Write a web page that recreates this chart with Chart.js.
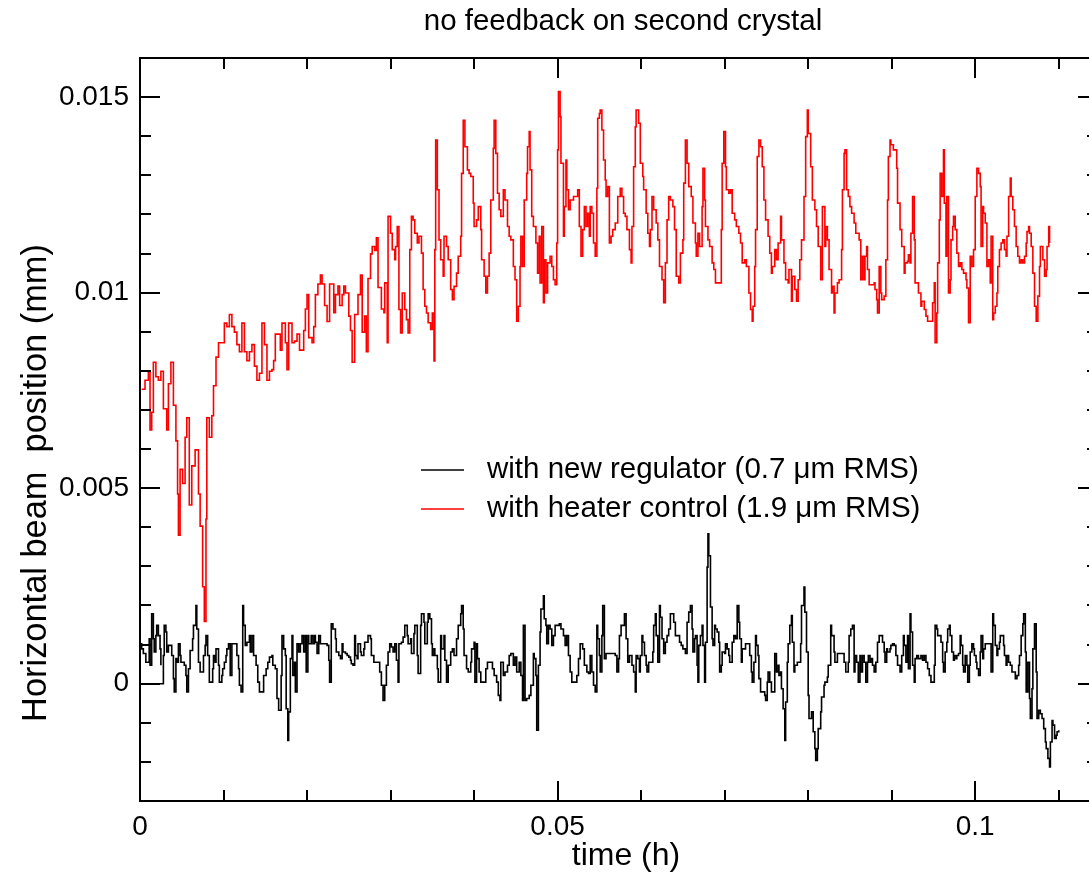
<!DOCTYPE html>
<html>
<head>
<meta charset="utf-8">
<title>no feedback on second crystal</title>
<script src="https://cdn.jsdelivr.net/npm/chart.js@4.4.1/dist/chart.umd.min.js"></script>
<style>
  html, body { margin: 0; padding: 0; background: #fff; overflow: hidden; }
  #wrap { width: 1089px; height: 874px; overflow: hidden; }
  canvas { display: block; }
</style>
</head>
<body>
<div id="wrap"><canvas id="beam" width="1110" height="874"></canvas></div>
<script>
// ---------- texts ----------
const chartTitle = 'no feedback on second crystal';
const xTitle = 'time (h)';
const yTitle = 'Horizontal beam  position (mm)';
const seriesLabels = ['with new regulator (0.7 \u03bcm RMS)', 'with heater control (1.9 \u03bcm RMS)'];

// ---------- axes ----------
const xRange = [0, 0.1147];
const yRange = [-0.003, 0.016];
const xMajorTicks = [0, 0.05, 0.1];
const xTickLabels = ['0', '0.05', '0.1'];
const xMinorTicks = [0.01, 0.02, 0.03, 0.04, 0.06, 0.07, 0.08, 0.09, 0.11];
const yMajorTicks = [0, 0.005, 0.01, 0.015];
const yTickLabels = ['0', '0.005', '0.01', '0.015'];
const yMinorTicks = [-0.002, -0.001, 0.001, 0.002, 0.003, 0.004, 0.006, 0.007, 0.008, 0.009,
                     0.011, 0.012, 0.013, 0.014];

// ---------- heater control (red), time in h, position in mm ----------
const redTime = [
  0.0002,0.0006,0.0010,0.0012,0.0014,0.0016,0.0019,0.0022,0.0025,0.0028,
  0.0032,0.0034,0.0037,0.0040,0.0043,0.0045,0.0046,0.0048,0.0051,0.0054,
  0.0056,0.0059,0.0062,0.0066,0.0070,0.0072,0.0075,0.0077,0.0079,0.0080,
  0.0083,0.0086,0.0088,0.0091,0.0094,0.0099,0.0101,0.0104,0.0107,0.0110,
  0.0113,0.0116,0.0119,0.0122,0.0125,0.0128,0.0131,0.0134,0.0137,0.0140,
  0.0143,0.0146,0.0149,0.0152,0.0155,0.0158,0.0160,0.0162,0.0166,0.0168,
  0.0170,0.0174,0.0176,0.0178,0.0182,0.0185,0.0188,0.0191,0.0194,0.0196,
  0.0198,0.0200,0.0202,0.0206,0.0208,0.0210,0.0213,0.0216,0.0218,0.0221,
  0.0224,0.0227,0.0230,0.0232,0.0234,0.0237,0.0239,0.0242,0.0244,0.0246,
  0.0250,0.0252,0.0254,0.0257,0.0259,0.0261,0.0264,0.0266,0.0269,0.0271,
  0.0273,0.0276,0.0278,0.0281,0.0283,0.0285,0.0289,0.0292,
  0.0293,0.0296,0.0297,0.0300,0.0302,0.0305,0.0306,0.0308,0.0310,0.0312,
  0.0314,0.0317,0.0319,0.0321,0.0323,0.0325,0.0327,0.0329,0.0332,0.0334,
  0.0337,0.0339,0.0341,0.0343,0.0345,0.0348,0.0350,0.0352,0.0353,0.0354,
  0.0356,0.0358,0.0360,0.0363,0.0364,0.0367,0.0369,0.0372,0.0374,0.0376,
  0.0379,0.0381,0.0384,0.0385,0.0387,0.0389,0.0392,0.0394,0.0396,0.0399,
  0.0400,0.0403,0.0405,0.0408,0.0409,0.0412,0.0414,0.0416,0.0418,0.0420,
  0.0423,0.0424,0.0426,0.0428,0.0430,0.0432,0.0435,0.0437,0.0440,0.0442,
  0.0444,0.0447,0.0449,0.0451,0.0453,0.0455,0.0456,0.0458,0.0460,0.0463,
  0.0464,0.0466,0.0467,0.0469,0.0471,0.0474,0.0476,0.0478,0.0479,0.0481,
  0.0483,0.0484,0.0486,0.0488,0.0491,0.0493,0.0495,0.0497,0.0499,0.0500,
  0.0501,0.0503,0.0504,0.0507,0.0508,0.0510,0.0511,0.0513,0.0515,0.0517,
  0.0519,0.0522,0.0524,0.0526,0.0528,0.0530,0.0532,0.0534,0.0536,0.0538,
  0.0539,0.0541,0.0543,0.0545,0.0547,0.0548,0.0550,0.0551,0.0553,0.0555,
  0.0557,0.0558,0.0560,0.0562,0.0564,0.0566,0.0569,
  0.0572,0.0575,0.0577,0.0579,0.0581,0.0583,0.0586,0.0588,0.0589,0.0591,
  0.0593,0.0594,0.0597,0.0599,0.0602,0.0603,0.0606,0.0608,0.0610,0.0611,
  0.0613,0.0615,0.0618,0.0620,0.0622,0.0625,0.0627,0.0629,0.0631,0.0633,
  0.0635,0.0638,0.0640,0.0642,0.0645,0.0647,0.0650,0.0651,0.0653,0.0655,
  0.0657,0.0660,0.0662,0.0665,0.0666,0.0668,0.0670,0.0673,0.0674,0.0676,
  0.0677,0.0680,0.0682,0.0685,0.0687,0.0689,0.0694,0.0696,0.0697,0.0699,
  0.0701,0.0702,0.0705,0.0707,0.0709,0.0712,0.0714,0.0717,0.0719,0.0721,
  0.0724,0.0726,0.0729,0.0731,0.0733,0.0734,0.0736,0.0737,0.0739,0.0741,
  0.0743,0.0745,0.0747,0.0749,0.0752,0.0754,0.0756,0.0757,0.0760,0.0762,
  0.0764,0.0767,0.0768,0.0771,0.0773,0.0776,0.0777,0.0780,0.0781,0.0784,
  0.0786,0.0788,0.0790,0.0792,0.0795,0.0797,0.0799,0.0800,0.0803,0.0805,
  0.0808,0.0810,0.0812,0.0815,0.0817,0.0820,0.0821,0.0823,0.0825,0.0828,
  0.0829,0.0831,0.0832,0.0835,0.0837,0.0840,0.0841,0.0843,0.0844,0.0846,
  0.0848,0.0850,0.0852,0.0855,0.0857,
  0.0861,0.0863,0.0865,0.0867,0.0868,0.0870,0.0871,0.0873,0.0876,0.0879,
  0.0880,0.0882,0.0883,0.0885,0.0887,0.0888,0.0891,0.0893,0.0895,0.0896,
  0.0898,0.0899,0.0902,0.0904,0.0906,0.0907,0.0910,0.0912,0.0915,0.0916,
  0.0919,0.0920,0.0922,0.0923,0.0925,0.0927,0.0928,0.0931,0.0932,0.0935,
  0.0936,0.0939,0.0941,0.0943,0.0947,0.0949,0.0951,0.0952,0.0954,0.0955,
  0.0957,0.0958,0.0960,0.0962,0.0963,0.0965,0.0966,0.0968,0.0970,0.0971,
  0.0973,0.0974,0.0976,0.0978,0.0980,0.0982,0.0984,0.0986,0.0989,0.0990,
  0.0992,0.0994,0.0996,0.0998,0.1000,0.1002,0.1004,0.1006,0.1007,0.1009,
  0.1010,0.1012,0.1014,0.1016,0.1018,0.1019,0.1021,0.1022,0.1024,0.1026,
  0.1027,0.1029,0.1031,0.1033,0.1035,0.1037,0.1038,0.1040,0.1042,0.1043,
  0.1045,0.1047,0.1049,0.1051,0.1053,0.1055,0.1057,0.1059,0.1061,0.1062,
  0.1064,0.1065,0.1067,0.1069,0.1071,0.1073,0.1075,0.1077,0.1078,0.1080,
  0.1081,0.1083,0.1085,0.1086,0.1088,0.1089
];
const redPos = [
  0.00753,0.00776,0.00799,0.00649,0.00694,0.00822,0.00785,0.00776,0.00799,0.00703,
  0.00649,0.00767,0.00822,0.00712,0.00621,0.00485,0.00380,0.00548,0.00512,0.00630,
  0.00680,0.00457,0.00557,0.00598,0.00485,0.00403,0.00248,0.00159,0.00421,0.00680,
  0.00630,0.00685,0.00762,0.00835,0.00872,0.00872,0.00922,0.00913,0.00944,0.00913,
  0.00899,0.00867,0.00849,0.00922,0.00849,0.00826,0.00849,0.00867,0.00812,0.00776,
  0.00794,0.00922,0.00867,0.00776,0.00799,0.00803,0.00826,0.00894,0.00894,0.00853,
  0.00922,0.00872,0.00803,0.00922,0.00872,0.00876,0.00894,0.00853,0.00853,0.00903,
  0.00958,0.00995,0.00885,0.00872,0.00913,0.00995,0.01022,0.01045,0.01022,0.00967,
  0.00926,0.01022,0.01022,0.00949,0.00995,0.01017,0.00967,0.00995,0.01017,0.00999,
  0.00940,0.00903,0.00822,0.00944,0.00944,0.00995,0.01045,0.00899,0.00940,0.00849,
  0.01036,0.01099,0.01118,0.01108,0.01140,0.01013,0.00958,0.00949,
  0.01025,0.00872,0.01195,0.01152,0.01110,0.01084,0.01118,0.01169,0.00957,0.00897,
  0.00999,0.00957,0.00931,0.00897,0.01110,0.01195,0.01186,0.01152,0.01127,0.01144,
  0.01101,0.01008,0.00965,0.00948,0.00923,0.00906,0.00948,0.00825,0.01110,0.01390,
  0.01263,0.01135,0.01084,0.01042,0.01144,0.01118,0.01084,0.01008,0.00982,0.01016,
  0.01050,0.01093,0.01144,0.01305,0.01441,0.01373,0.01314,0.01305,0.01297,0.01229,
  0.01169,0.01186,0.01220,0.01161,0.01084,0.01042,0.00999,0.01042,0.01101,0.01237,
  0.01369,0.01441,0.01356,0.01254,0.01212,0.01195,0.01263,0.01237,0.01169,0.01144,
  0.01135,0.01067,0.01033,0.00927,0.00965,0.01067,0.01144,0.01067,0.01237,0.01305,
  0.01373,0.01412,0.01314,0.01195,0.01169,0.01127,0.01050,0.01144,0.01025,0.01169,
  0.00974,0.01084,0.00999,0.01076,0.01093,0.01067,0.01033,0.01020,0.01127,0.01365,
  0.01514,0.01450,0.01331,0.01144,0.01220,0.01339,0.01263,0.01212,0.01237,0.01237,
  0.01246,0.01246,0.01263,0.01169,0.01093,0.01161,0.01220,0.01169,0.01203,0.01144,
  0.01220,0.01203,0.01127,0.01093,0.01267,0.01446,0.01458,0.01467,0.01416,0.01339,
  0.01288,0.01246,0.01271,0.01127,0.01144,0.01161,0.01178,
  0.01246,0.01267,0.01246,0.01203,0.01195,0.01161,0.01110,0.01076,0.01169,0.01322,
  0.01424,0.01467,0.01433,0.01331,0.01297,0.01263,0.01203,0.01152,0.01118,0.01161,
  0.01246,0.01212,0.01178,0.01135,0.01067,0.01033,0.00974,0.01076,0.01186,0.01246,
  0.01237,0.01220,0.01161,0.01042,0.01025,0.01101,0.01135,0.01280,0.01390,0.01331,
  0.01271,0.01246,0.01178,0.01127,0.01093,0.01152,0.01118,0.01220,0.01318,0.01237,
  0.01169,0.01135,0.01118,0.01076,0.01059,0.01025,0.01025,0.01161,0.01331,0.01412,
  0.01322,0.01263,0.01254,0.01263,0.01203,0.01186,0.01169,0.01152,0.01127,0.01076,
  0.01084,0.01067,0.00999,0.00957,0.00927,0.00965,0.01067,0.01161,0.01348,0.01390,
  0.01373,0.01322,0.01237,0.01186,0.01144,0.01101,0.01050,0.01067,0.01110,0.01084,
  0.01127,0.01195,0.01135,0.01076,0.01033,0.01025,0.01059,0.00978,0.01042,0.01008,
  0.00978,0.01033,0.01084,0.01135,0.01246,0.01399,0.01467,0.01407,0.01322,0.01237,
  0.01212,0.01169,0.01118,0.01033,0.01220,0.01118,0.01169,0.01135,0.01059,0.00999,
  0.01016,0.00948,0.00999,0.01025,0.01033,0.01110,0.01263,0.01356,0.01365,0.01263,
  0.01246,0.01220,0.01203,0.01178,0.01152,
  0.01135,0.01033,0.01093,0.01033,0.01093,0.01118,0.01059,0.01020,0.01020,0.01025,
  0.01008,0.00982,0.00948,0.01067,0.00999,0.00982,0.00991,0.01084,0.01237,0.01348,
  0.01390,0.01378,0.01365,0.01365,0.01318,0.01229,0.01161,0.01118,0.01050,0.01076,
  0.01080,0.01097,0.01076,0.01152,0.01246,0.01135,0.01025,0.01025,0.00999,0.00965,
  0.00978,0.00957,0.00940,0.00927,0.00927,0.00974,0.01025,0.00872,0.00948,0.01076,
  0.01186,0.01305,0.01246,0.01365,0.01229,0.01093,0.01246,0.00999,0.01033,0.01135,
  0.01169,0.01195,0.01161,0.01101,0.01067,0.01076,0.01059,0.01050,0.01033,0.01012,
  0.00923,0.01093,0.01067,0.01110,0.01246,0.01318,0.01305,0.01271,0.01118,0.01220,
  0.01203,0.01178,0.01067,0.01084,0.01025,0.01144,0.00931,0.00948,0.00965,0.00999,
  0.01067,0.01110,0.01127,0.01135,0.01110,0.01093,0.01144,0.01246,0.01293,0.01246,
  0.01212,0.01169,0.01118,0.01093,0.01076,0.01084,0.01076,0.01093,0.01127,0.01156,
  0.01169,0.01152,0.01118,0.01050,0.00965,0.00927,0.00991,0.01067,0.01118,0.01118,
  0.01084,0.01042,0.01059,0.01118,0.01169,0.01127
];

// ---------- new regulator (black) ----------
// the record starts with a short piece at zero drawn back from t = 0 (null = pen up)
const blackTime = [
  0.0000,0.0002,0.0004,0.0007,0.0009,0.0011,0.0012,0.0014,0.0016,0.0017,
  0.0019,0.0020,0.0022,0.0024,0.0025,0.0025,0.0000,0.0026,
  0.0028,0.0029,0.0031,0.0032,0.0034,
  0.0036,0.0038,0.0040,0.0041,0.0043,0.0044,0.0046,0.0048,0.0049,0.0051,
  0.0053,0.0055,0.0056,0.0058,0.0060,0.0063,0.0064,0.0067,0.0068,0.0070,
  0.0072,0.0075,0.0076,0.0078,0.0079,0.0081,0.0083,0.0085,0.0087,0.0088,
  0.0090,0.0091,0.0094,0.0095,0.0098,0.0099,0.0101,0.0103,0.0104,0.0106,
  0.0108,0.0110,0.0115,0.0116,0.0118,0.0119,0.0121,0.0123,0.0124,0.0126,
  0.0128,0.0131,0.0132,0.0134,0.0136,0.0139,0.0141,0.0143,0.0146,0.0148,
  0.0151,0.0153,0.0155,0.0158,0.0159,0.0162,0.0164,0.0166,0.0169,0.0170,
  0.0172,0.0174,0.0175,0.0177,0.0178,0.0180,0.0182,0.0183,0.0185,0.0186,
  0.0188,0.0190,0.0192,0.0194,0.0196,0.0198,0.0199,0.0201,0.0202,0.0205,
  0.0207,0.0209,0.0210,0.0212,0.0214,0.0216,0.0224,0.0226,0.0227,0.0229,
  0.0231,0.0234,0.0235,0.0238,0.0240,0.0242,0.0243,0.0246,0.0248,0.0250,
  0.0252,0.0253,0.0255,0.0257,0.0258,0.0260,0.0261,0.0264,0.0265,0.0268,
  0.0269,0.0273,0.0276,0.0277,0.0280,0.0282,
  0.0285,0.0287,0.0289,0.0291,0.0293,0.0295,0.0297,0.0299,0.0301,0.0303,
  0.0305,0.0307,0.0309,0.0310,0.0313,0.0315,0.0317,0.0320,0.0321,0.0324,
  0.0325,0.0328,0.0329,0.0332,0.0333,0.0336,0.0337,0.0340,0.0341,0.0344,
  0.0345,0.0347,0.0349,0.0350,0.0352,0.0353,0.0356,0.0357,0.0360,0.0361,
  0.0364,0.0365,0.0367,0.0369,0.0372,0.0374,0.0376,0.0379,0.0381,0.0384,
  0.0385,0.0387,0.0388,0.0391,0.0393,0.0396,0.0397,0.0400,0.0401,0.0403,
  0.0404,0.0406,0.0408,0.0412,0.0414,0.0416,0.0420,0.0422,0.0424,0.0427,
  0.0429,0.0431,0.0432,0.0435,0.0437,0.0440,0.0442,0.0444,0.0447,0.0449,
  0.0451,0.0454,0.0456,0.0458,0.0459,0.0461,0.0463,0.0466,0.0468,0.0471,
  0.0472,0.0474,0.0475,0.0477,0.0479,0.0480,0.0483,0.0484,0.0486,0.0487,
  0.0489,0.0491,0.0493,0.0495,0.0497,0.0502,0.0504,0.0507,0.0509,0.0511,
  0.0513,0.0515,0.0517,0.0520,0.0523,0.0525,0.0527,0.0530,0.0532,0.0535,
  0.0537,0.0539,0.0541,0.0543,0.0545,0.0547,0.0548,0.0550,0.0551,0.0553,
  0.0554,0.0556,0.0558,0.0567,0.0569,
  0.0571,0.0573,0.0574,0.0576,0.0578,0.0580,0.0582,0.0584,0.0586,0.0589,
  0.0591,0.0593,0.0594,0.0596,0.0598,0.0599,0.0601,0.0602,0.0604,0.0606,
  0.0607,0.0609,0.0611,0.0614,0.0615,0.0617,0.0618,0.0620,0.0622,0.0623,
  0.0625,0.0627,0.0629,0.0631,0.0633,0.0635,0.0638,0.0639,0.0641,0.0643,
  0.0646,0.0648,0.0650,0.0653,0.0655,0.0657,0.0659,0.0661,0.0662,0.0664,
  0.0665,0.0667,0.0668,0.0669,0.0671,0.0673,0.0674,0.0676,0.0677,0.0679,
  0.0680,0.0681,0.0683,0.0685,0.0686,0.0688,0.0689,0.0691,0.0693,0.0694,
  0.0696,0.0697,0.0700,0.0701,0.0703,0.0705,0.0706,0.0709,0.0711,0.0713,
  0.0715,0.0717,0.0718,0.0720,0.0721,0.0725,0.0728,0.0730,0.0732,0.0733,
  0.0735,0.0737,0.0738,0.0740,0.0741,0.0743,0.0748,0.0749,0.0751,0.0752,
  0.0754,0.0756,0.0759,0.0760,0.0762,0.0764,0.0765,0.0767,0.0768,0.0770,
  0.0772,0.0773,0.0775,0.0776,0.0778,0.0780,0.0781,0.0783,0.0784,0.0787,
  0.0789,0.0791,0.0792,0.0795,0.0796,0.0798,0.0800,0.0801,0.0804,0.0806,
  0.0808,0.0809,0.0811,0.0812,0.0815,0.0816,0.0819,0.0820,0.0823,0.0824,
  0.0827,0.0828,0.0831,0.0832,0.0835,0.0840,0.0843,0.0845,0.0848,0.0849,
  0.0851,0.0853,0.0855,0.0856,
  0.0858,0.0860,0.0862,0.0863,0.0865,0.0867,0.0869,0.0871,0.0872,0.0874,
  0.0875,0.0877,0.0879,0.0881,0.0883,0.0885,0.0887,0.0889,0.0891,0.0892,
  0.0894,0.0895,0.0898,0.0899,0.0901,0.0903,0.0905,0.0907,0.0910,0.0912,
  0.0914,0.0915,0.0917,0.0919,0.0920,0.0922,0.0923,0.0925,0.0927,0.0928,
  0.0930,0.0932,0.0935,0.0937,0.0939,0.0941,0.0943,0.0945,0.0947,0.0949,
  0.0951,0.0952,0.0954,0.0955,0.0958,0.0959,0.0961,0.0962,0.0964,0.0966,
  0.0967,0.0969,0.0970,0.0972,0.0974,0.0975,0.0977,0.0978,0.0980,0.0982,
  0.0983,0.0985,0.0986,0.0988,0.0990,0.0991,0.0993,0.0994,0.0996,0.0998,
  0.0999,0.1001,0.1002,0.1004,0.1006,0.1007,0.1009,0.1010,0.1012,0.1017,
  0.1019,0.1021,0.1022,0.1024,0.1026,0.1027,0.1029,0.1030,0.1032,0.1034,
  0.1035,0.1037,0.1038,0.1040,0.1042,0.1044,0.1046,0.1048,0.1050,0.1052,
  0.1053,0.1055,0.1057,0.1058,0.1060,0.1061,0.1063,0.1065,0.1066,0.1068,
  0.1069,0.1071,0.1073,0.1074,0.1076,0.1078,0.1080,0.1082,0.1084,0.1085,
  0.1087,0.1089,0.1090,0.1092,0.1093,0.1095,0.1097,0.1098,0.1100
];
const blackPos = [
  0.00102,0.00089,0.00077,0.00055,0.00055,0.00115,0.00047,0.00179,0.00115,0.00081,
  0.00123,0.00149,0.00123,0.00089,0.00047,null,0,0,
  0.00072,0.00149,0.00132,0.00081,0.00098,
  0.00098,0.00072,0.00013,-0.00021,0.00064,0.00055,0.00102,0.00072,0.00055,0.00055,
  0.00047,0.00021,-0.00021,0.00038,0.00085,0.00115,0.00149,0.00200,0.00140,0.00055,
  0.00030,0.00030,0.00072,0.00098,0.00123,0.00072,0.00004,0.00004,0.00038,0.00072,
  0.00055,0.00089,0.00047,0.00004,0.00021,0.00038,0.00055,0.00072,0.00089,0.00102,
  0.00021,0.00102,0.00102,0.00072,0.00038,-0.00004,-0.00021,0.00200,0.00149,0.00098,
  0.00106,0.00123,0.00081,0.00123,0.00072,0.00047,0.00004,-0.00021,-0.00021,0.00021,
  0.00038,0.00055,0.00068,0.00072,0.00047,0.00038,-0.00038,-0.00068,0.00021,0.00123,
  0.00089,0.00072,-0.00064,-0.00145,-0.00072,0.00064,0.00123,0.00021,0.00055,-0.00021,
  0.00102,0.00081,0.00102,0.00123,0.00081,0.00123,0.00030,0.00123,0.00102,0.00123,
  0.00102,0.00123,0.00106,0.00077,0.00123,0.00102,0.00098,0.00060,0.00004,0.00153,
  0.00140,0.00115,0.00081,0.00072,0.00064,0.00102,0.00081,0.00077,0.00072,0.00068,
  0.00060,0.00051,0.00047,0.00123,0.00072,0.00064,0.00102,0.00081,0.00072,0.00089,
  0.00106,0.00123,0.00115,0.00072,0.00055,0.00055,
  0.00055,0.00030,-0.00004,-0.00043,-0.00004,0.00047,0.00081,0.00102,0.00094,0.00081,
  0.00102,0.00060,0.00004,0.00102,0.00106,0.00119,0.00149,0.00123,0.00102,0.00115,
  0.00077,0.00128,0.00149,0.00072,0.00026,0.00149,0.00179,0.00157,0.00102,0.00157,
  0.00179,0.00166,0.00102,0.00072,0.00089,0.00072,0.00038,0.00004,0.00123,0.00089,
  0.00123,0.00060,0.00004,0.00047,0.00081,0.00089,0.00072,0.00115,0.00149,0.00179,
  0.00200,0.00140,0.00072,0.00038,0.00030,0.00055,0.00089,0.00106,0.00004,0.00102,
  0.00064,0.00030,0.00004,0.00004,0.00038,0.00055,0.00055,0.00038,0.00021,0.00004,
  -0.00030,-0.00043,0.00055,0.00021,0.00030,0.00047,0.00072,0.00077,0.00047,0.00068,
  0.00030,0.00055,0.00021,-0.00043,0.00149,-0.00043,-0.00038,-0.00030,-0.00004,0.00077,
  0.00064,0.00021,-0.00119,0.00047,0.00132,0.00191,0.00225,0.00166,0.00149,0.00102,
  0.00149,0.00140,0.00098,0.00123,0.00149,0.00153,0.00140,0.00123,0.00098,0.00123,
  0.00072,0.00030,0.00004,0.00004,0.00021,0.00064,0.00102,0.00089,0.00047,0.00030,
  0.00026,0.00072,0.00030,-0.00004,-0.00021,0.00149,0.00115,0.00072,0.00030,0.00123,
  0.00200,0.00064,0.00077,0.00077,0.00072,
  0.00030,0.00064,0.00123,0.00149,0.00149,0.00179,0.00115,0.00055,0.00072,0.00047,
  0.00030,-0.00021,0.00072,0.00064,0.00030,0.00072,0.00123,0.00106,0.00072,0.00047,
  0.00030,0.00055,0.00055,0.00081,0.00149,0.00179,0.00123,0.00055,0.00200,0.00170,
  0.00115,0.00077,0.00106,0.00123,0.00140,0.00179,0.00179,0.00157,0.00123,0.00123,
  0.00106,0.00098,0.00089,0.00077,0.00157,0.00183,0.00200,0.00140,0.00081,0.00115,
  0.00123,0.00047,0.00004,0.00098,0.00123,0.00149,0.00098,0.00004,0.00106,0.00298,
  0.00383,0.00327,0.00196,0.00115,0.00098,0.00149,0.00140,0.00132,0.00106,0.00030,
  0.00047,0.00081,0.00077,0.00102,0.00089,0.00072,0.00055,0.00106,0.00123,0.00115,
  0.00200,0.00157,0.00115,0.00055,0.00089,0.00102,0.00102,0.00072,0.00030,0.00004,
  0.00055,0.00123,0.00098,0.00072,0.00013,-0.00021,-0.00030,-0.00043,0.00004,0.00030,
  0.00004,-0.00021,-0.00021,0.00077,0.00030,0.00047,0.00021,0.00030,-0.00013,-0.00064,
  -0.00145,-0.00047,0.00055,0.00102,0.00149,0.00174,0.00106,0.00030,0.00047,0.00055,
  0.00055,0.00102,0.00200,0.00247,0.00183,0.00081,-0.00030,-0.00089,-0.00072,-0.00123,
  -0.00166,-0.00196,-0.00166,-0.00115,-0.00072,-0.00034,-0.00004,0.00004,0.00017,0.00047,
  0.00149,0.00123,0.00081,0.00055,0.00077,0.00077,0.00055,0.00030,0.00055,0.00123,
  0.00140,0.00149,0.00030,0.00072,
  0.00055,0.00004,0.00072,0.00030,0.00072,0.00055,0.00004,0.00055,0.00072,0.00055,
  0.00064,0.00047,0.00030,0.00055,0.00106,0.00123,0.00123,0.00106,0.00081,0.00055,
  0.00089,0.00081,0.00089,0.00098,0.00102,0.00098,0.00072,0.00047,0.00030,0.00072,
  0.00123,0.00098,0.00055,0.00123,0.00038,0.00179,0.00132,0.00047,0.00004,0.00064,
  0.00072,0.00064,0.00072,0.00060,0.00072,0.00055,0.00038,0.00021,0.00004,0.00004,
  0.00047,0.00149,0.00140,0.00123,0.00123,0.00106,0.00055,0.00030,0.00081,0.00106,
  0.00140,0.00149,0.00123,0.00081,0.00060,0.00072,0.00064,0.00072,0.00077,0.00123,
  0.00098,0.00047,0.00030,0.00072,0.00047,0.00004,0.00047,0.00081,0.00102,0.00089,
  0.00072,0.00055,0.00038,0.00021,0.00081,0.00123,0.00064,0.00089,0.00102,0.00102,
  0.00030,0.00179,0.00149,0.00098,0.00072,0.00089,0.00106,0.00123,0.00123,0.00098,
  0.00072,0.00047,0.00072,0.00055,0.00047,0.00030,0.00030,0.00013,0.00021,0.00047,
  0.00072,0.00123,0.00153,0.00179,0.00081,-0.00021,0.00055,-0.00038,-0.00089,-0.00013,
  0.00089,0.00153,0.00030,-0.00089,-0.00068,-0.00077,-0.00089,-0.00115,-0.00149,-0.00166,
  -0.00191,-0.00213,-0.00149,-0.00094,-0.00106,-0.00140,-0.00132,-0.00123,-0.00119
];

if (redTime.length !== redPos.length || blackTime.length !== blackPos.length) {
  console.warn('length mismatch', redTime.length, redPos.length, blackTime.length, blackPos.length);
}

const toPoints = (ts, vs) => ts.map((t, i) => ({ x: t, y: vs[i] }));
const fontFamily = "'Liberation Sans', Arial, Helvetica, sans-serif";
const tickSize = 28;
const titleSize = 29.5;
const legendSize = 29.5;
const xTitleSize = 32;
const yTitleSize = 34.4;

// frame with inward ticks on all four sides (grace style)
const frameTicks = {
  id: 'frameTicks',
  afterDatasetsDraw(chart) {
    const { ctx, chartArea: a, scales: { x, y } } = chart;
    ctx.save();
    ctx.strokeStyle = '#000';
    ctx.lineWidth = 2;
    ctx.strokeRect(a.left, a.top, a.right - a.left, a.bottom - a.top);
    ctx.beginPath();
    const xTick = (v, len) => {
      const px = Math.round(x.getPixelForValue(v));
      ctx.moveTo(px, a.bottom); ctx.lineTo(px, a.bottom - len);
      ctx.moveTo(px, a.top); ctx.lineTo(px, a.top + len);
    };
    const yTick = (v, len) => {
      const py = Math.round(y.getPixelForValue(v));
      ctx.moveTo(a.left, py); ctx.lineTo(a.left + len, py);
      ctx.moveTo(a.right, py); ctx.lineTo(a.right - len, py);
    };
    xMajorTicks.forEach(v => xTick(v, 20));
    xMinorTicks.forEach(v => xTick(v, 11));
    yMajorTicks.forEach(v => yTick(v, 20));
    yMinorTicks.forEach(v => yTick(v, 11));
    ctx.stroke();
    ctx.restore();
  }
};

// title, axis labels and legend
const textsAndLegend = {
  id: 'textsAndLegend',
  afterDraw(chart) {
    const { ctx, chartArea: a } = chart;
    ctx.save();
    ctx.fillStyle = '#000';
    ctx.textBaseline = 'middle';
    ctx.textAlign = 'center';
    ctx.font = titleSize + 'px ' + fontFamily;
    ctx.fillText(chartTitle, (a.left + a.right) / 2 + 4, 22);

    ctx.font = xTitleSize + 'px ' + fontFamily;
    ctx.fillText(xTitle, (a.left + a.right) / 2 + 7, 856);

    ctx.save();
    ctx.font = yTitleSize + 'px ' + fontFamily;
    ctx.translate(37, 483);
    ctx.rotate(-Math.PI / 2);
    ctx.fillText(yTitle, 0, 0);
    ctx.restore();

    ctx.textAlign = 'left';
    ctx.font = legendSize + 'px ' + fontFamily;
    chart.data.datasets.forEach((ds, i) => {
      const ly = 470 + i * 39;
      ctx.strokeStyle = ds.borderColor;
      ctx.lineWidth = 1.6;
      ctx.beginPath();
      ctx.moveTo(421, ly);
      ctx.lineTo(464, ly);
      ctx.stroke();
      ctx.fillText(ds.label, 487, ly);
    });
    ctx.restore();
  }
};

new Chart(document.getElementById('beam'), {
  type: 'line',
  data: {
    datasets: [
      {
        label: seriesLabels[0],
        data: toPoints(blackTime, blackPos),
        borderColor: '#000000',
        borderWidth: 1.6,
        pointRadius: 0,
        stepped: true,
        spanGaps: false,
        fill: false
      },
      {
        label: seriesLabels[1],
        data: toPoints(redTime, redPos),
        borderColor: '#ff0000',
        borderWidth: 1.6,
        pointRadius: 0,
        stepped: true,
        fill: false
      }
    ]
  },
  options: {
    responsive: false,
    animation: false,
    devicePixelRatio: 1,
    layout: { padding: { left: 0, top: 58, right: 12, bottom: 0 } },
    plugins: {
      legend: { display: false },
      title: { display: false },
      tooltip: { enabled: false }
    },
    scales: {
      x: {
        type: 'linear',
        min: xRange[0],
        max: xRange[1],
        afterBuildTicks: s => { s.ticks = xMajorTicks.map(v => ({ value: v })); },
        afterFit: s => { s.height = 73; },
        grid: { display: false, drawTicks: false },
        border: { display: false },
        ticks: {
          autoSkip: false,
          maxRotation: 0,
          padding: 9,
          color: '#000',
          font: { family: fontFamily, size: tickSize },
          callback: v => xTickLabels[xMajorTicks.findIndex(m => Math.abs(m - v) < 1e-9)]
        },
        title: { display: false }
      },
      y: {
        type: 'linear',
        min: yRange[0],
        max: yRange[1],
        afterBuildTicks: s => { s.ticks = yMajorTicks.map(v => ({ value: v })); },
        afterFit: s => { s.width = 140; },
        grid: { display: false, drawTicks: false },
        border: { display: false },
        ticks: {
          autoSkip: false,
          padding: 11,
          color: '#000',
          font: { family: fontFamily, size: tickSize },
          callback: v => yTickLabels[yMajorTicks.findIndex(m => Math.abs(m - v) < 1e-9)]
        },
        title: { display: false }
      }
    }
  },
  plugins: [frameTicks, textsAndLegend]
});
</script>
</body>
</html>
